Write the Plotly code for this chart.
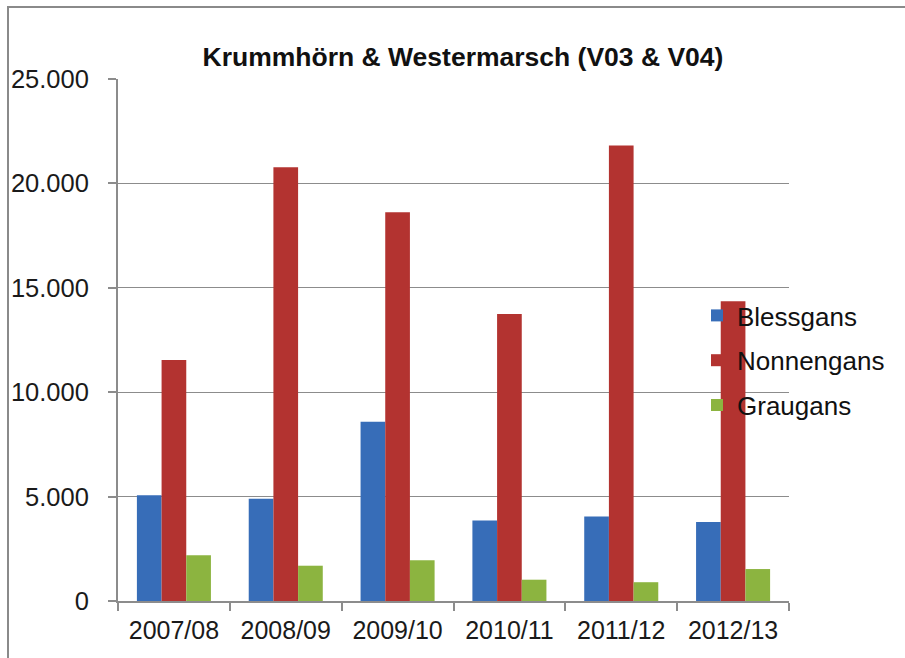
import plotly.graph_objects as go

# Goose counts per winter season
seasons = ["2007/08", "2008/09", "2009/10", "2010/11", "2011/12", "2012/13"]
blessgans = [5070, 4900, 8580, 3860, 4050, 3780]
nonnengans = [11540, 20770, 18620, 13750, 21810, 14360]
graugans = [2190, 1690, 1950, 1020, 900, 1530]

series_names = ["Blessgans", "Nonnengans", "Graugans"]
series_values = [blessgans, nonnengans, graugans]
series_colors = ["#376db8", "#b33330", "#8cb440"]

FONT = "Liberation Sans, Arial, sans-serif"
GRID = "#8c8c8c"

fig = go.Figure()
for name, vals, col in zip(series_names, series_values, series_colors):
    fig.add_trace(go.Bar(
        x=seasons, y=vals, name=name, legendgroup=name,
        marker=dict(color=col, line=dict(width=0)),
    ))

L, R, T, B = 118, 116, 79, 57
W, H = 905, 658
pw, ph = W - L - R, H - T - B

fig.update_layout(
    width=W, height=H,
    margin=dict(l=L, r=R, t=T, b=B),
    paper_bgcolor="white", plot_bgcolor="white",
    separators=",.",
    barmode="group", bargap=0.338, bargroupgap=0,
    font=dict(family=FONT, color="#1a1a1a"),
    title=dict(
        text="<b>Krummhörn & Westermarsch (V03 & V04)</b>",
        font=dict(family=FONT, size=26.5, color="#111111"),
        x=(463) / W, xanchor="center",
        y=1 - 57 / H, yanchor="middle",
    ),
    legend=dict(
        x=(697 - L) / pw, xanchor="left",
        y=(601 - 292) / ph, yanchor="top",
        bgcolor="rgba(0,0,0,0)",
        font=dict(family=FONT, size=26, color="#111111"),
        tracegroupgap=8, traceorder="grouped",
    ),
    showlegend=True,
)

fig.update_yaxes(
    range=[0, 25000], tickvals=[0, 5000, 10000, 15000, 20000, 25000],
    tickformat=",d",
    showgrid=True, gridcolor=GRID, gridwidth=1,
    showline=True, linecolor=GRID, linewidth=2,
    ticks="outside", ticklen=8, tickcolor=GRID, tickwidth=2,
    tickfont=dict(family=FONT, size=25.5, color="#1a1a1a"),
    ticklabelstandoff=14,
    zeroline=False,
)
fig.update_xaxes(
    showline=True, linecolor=GRID, linewidth=2,
    ticks="outside", ticklen=8, tickcolor=GRID, tickwidth=2,
    tickson="boundaries",
    tickfont=dict(family=FONT, size=25, color="#1a1a1a"),
    ticklabelstandoff=6,
)

# chart frame
fig.add_shape(
    type="rect", xref="paper", yref="paper",
    x0=(8 - L) / pw, x1=(W + 20 - L) / pw,
    y0=(601 - (H + 20)) / ph, y1=(601 - 7) / ph,
    line=dict(color="#8a8a8a", width=2), fillcolor="rgba(0,0,0,0)",
    layer="below",
)

fig.write_html("out.html")
